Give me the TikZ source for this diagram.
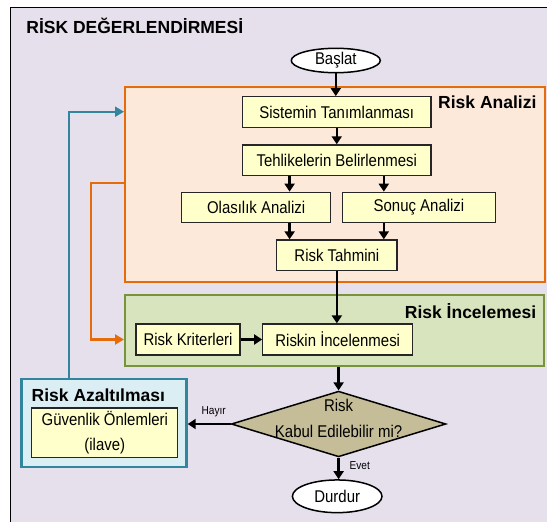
\documentclass[tikz,border=0pt]{standalone}
\usepackage{fontspec}
\setmainfont{Liberation Sans}
\newfontfamily\narrowfont{Liberation Sans}[FakeStretch=0.88]
\usetikzlibrary{arrows.meta,shapes.geometric}
\definecolor{bgl}{HTML}{E5E0EC}
\definecolor{orfill}{HTML}{FDE9D9}
\definecolor{ordraw}{HTML}{E46C0A}
\definecolor{grfill}{HTML}{D7E4BD}
\definecolor{grdraw}{HTML}{77933C}
\definecolor{blfill}{HTML}{DBEEF4}
\definecolor{bldraw}{HTML}{31859C}
\definecolor{yel}{HTML}{FFFFCC}
\definecolor{tan}{HTML}{C4BD97}
\tikzset{
  boxn/.style={draw=black!85, line width=1.3pt, fill=yel, inner sep=0pt,
    font=\narrowfont\fontsize{17}{25.5}\selectfont, align=center},
  group/.style={rectangle, inner sep=0pt, line width=2pt},
  term/.style={ellipse, draw=black, line width=1.5pt, fill=white, inner sep=0pt,
    font=\narrowfont\fontsize{17}{18}\selectfont},
  arr/.style={line width=2.4pt, -{Triangle[width=10pt,length=8pt]}},
  grplabel/.style={anchor=base west, inner sep=0pt, font=\bfseries\fontsize{17.5}{20}\selectfont},
  small/.style={inner sep=0pt, font=\narrowfont\fontsize{11.5}{12}\selectfont},
}
\begin{document}
\begin{tikzpicture}[x=1pt,y=-1pt]
\useasboundingbox (0,0) rectangle (547,522);
\fill[white] (0,0) rectangle (547,522);
\fill[bgl] (10.5,7.5) rectangle (547,522);
\draw[line width=1.8pt] (10.5,522) -- (10.5,7.5) -- (547,7.5);

\node[grplabel] (title) at (26.2,33.3) {RİSK DEĞERLENDİRMESİ};

% groups
\node[group, draw=ordraw, fill=orfill, minimum width=419.5pt, minimum height=194.7pt] (ana) at (334.75,184.35) {};
\node[group, draw=grdraw, fill=grfill, minimum width=419.3pt, minimum height=71pt] (inc) at (334.65,330.5) {};
\node[group, draw=bldraw, fill=blfill, line width=2.4pt, minimum width=164.9pt, minimum height=88pt] (azal) at (104.05,423) {};

\node[grplabel] (lana) at (438,108) {Risk Analizi};
\node[grplabel] (linc) at (404.7,318.3) {Risk İncelemesi};
\node[grplabel] (lazal) at (31.5,401) {Risk Azaltılması};

% terminals
\node[term, minimum width=89pt, minimum height=24.4pt] (bas) at (335.8,60.5) {Başlat};
\node[term, minimum width=89.6pt, minimum height=32.7pt] (dur) at (337.2,496.3) {Durdur};

% boxes
\node[boxn, minimum width=188.5pt, minimum height=30.6pt] (sis) at (336.75,112) {Sistemin Tanımlanması};
\node[boxn, minimum width=188.5pt, minimum height=30.7pt] (teh) at (336.75,160.3) {Tehlikelerin Belirlenmesi};
\node[boxn, minimum width=149.4pt, minimum height=30.4pt] (ola) at (256.1,207.5) {Olasılık Analizi};
\node[boxn, minimum width=152.9pt, minimum height=30.4pt] (son) at (419,207.5) {Sonuç Analizi};
\node[boxn, minimum width=120.3pt, minimum height=30.7pt] (tah) at (336.85,255.3) {Risk Tahmini};
\node[boxn, minimum width=104pt, minimum height=31pt] (kri) at (188,339.5) {Risk Kriterleri};
\node[boxn, minimum width=150pt, minimum height=31pt] (rin) at (337.75,339.5) {Riskin İncelenmesi};
\node[boxn, minimum width=146pt, minimum height=49.5pt] (guv) at (104.8,432.6) {Güvenlik Önlemleri\\(ilave)};

% decision
\node[diamond, draw=black, line width=1.5pt, fill=tan, inner sep=0pt,
  minimum width=214.6pt, minimum height=65.7pt] (dec) at (338.6,424) {};
\node[inner sep=0pt, align=center, font=\narrowfont\fontsize{17}{26.7}\selectfont] (dect) at (338.6,418.5) {Risk\\Kabul Edilebilir mi?};

% helper coordinates
\coordinate (cl) at (289.6,0);
\coordinate (cr) at (383.8,0);
\coordinate (b1) at (68.7,111.7);
\coordinate (o1) at (90.7,183.3);

% black arrows
\draw[arr] (bas.south) -- (bas.south |- sis.north);
\draw[arr] (sis.south) -- (sis.south |- teh.north);
\draw[arr] (teh.south -| cl) -- (ola.north -| cl);
\draw[arr] (teh.south -| cr) -- (son.north -| cr);
\draw[arr] (ola.south -| cl) -- (tah.north -| cl);
\draw[arr] (son.south -| cr) -- (tah.north -| cr);
\draw[arr] (tah.south) -- (tah.south |- rin.north);
\draw[arr] (kri.east) -- (rin.west);
\draw[arr] (dec.north |- inc.south) -- (dec.north);
\draw[arr] (dec.west) -- (azal.east |- dec.west);
\draw[arr] (dec.south) -- (dec.south |- dur.north);

\node[small] (hay) at (213.7,411.7) {Hayır};
\node[small] (evt) at (359.7,466) {Evet};

% feedback connectors
\draw[line width=2.2pt, draw=bldraw, -{Triangle[width=10pt,length=9pt]}]
  (azal.north -| b1) -- (b1) -- (ana.west |- b1);
\draw[line width=2.2pt, draw=ordraw, -{Triangle[width=10pt,length=9pt]}]
  (ana.west |- o1) -- (o1) -- (o1 |- kri) -- (inc.west |- kri);
\end{tikzpicture}
\end{document}
